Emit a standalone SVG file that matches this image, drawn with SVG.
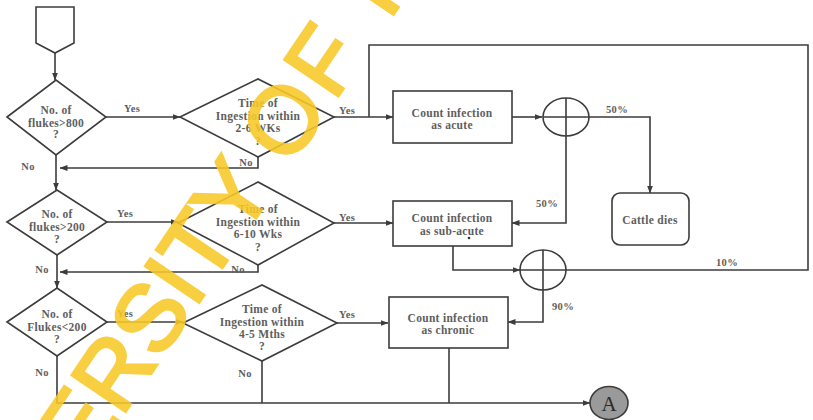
<svg xmlns="http://www.w3.org/2000/svg" width="813" height="420" viewBox="0 0 813 420">
  <defs>
    <style>
      .shape { fill: #ffffff; stroke: #3c3c3c; stroke-width: 1.6; }
      .ln { fill: none; stroke: #3c3c3c; stroke-width: 1.6; }
      .arr { marker-end: url(#ah); }
      .t { font-family: "Liberation Serif", "Times New Roman", serif; font-weight: bold; font-size: 11.5px; fill: #5e5e5e; text-anchor: middle; letter-spacing: 0.3px; }
      .lbl { font-family: "Liberation Serif", "Times New Roman", serif; font-weight: bold; font-size: 10.5px; fill: #5e5e5e; text-anchor: middle; letter-spacing: 0.3px; }
      .wm { font-family: "Liberation Sans", Arial, sans-serif; font-size: 94px; fill: #f9c928; stroke: #f9c928; stroke-width: 3; opacity: 0.88; }
    </style>
    <marker id="ah" markerWidth="8" markerHeight="6" refX="7.5" refY="3" orient="auto" markerUnits="userSpaceOnUse">
      <path d="M0,0 L8,3 L0,6 z" fill="#3c3c3c"/>
    </marker>
  </defs>

  <rect width="813" height="420" fill="#ffffff"/>

  <!-- connectors -->
  <g id="connectors">
    <path class="ln arr" d="M55,53 V80"/>
    <path class="ln arr" d="M106,117 H180"/>
    <path class="ln arr" d="M334,117 H393"/>
    <path class="ln arr" d="M258,157 V168 H60"/>
    <path class="ln arr" d="M56,155 V190"/>
    <path class="ln arr" d="M512,117 H542"/>
    <path class="ln arr" d="M589,117 H650 V193"/>
    <path class="ln arr" d="M566,136 V223 H512"/>
    <path class="ln arr" d="M107,222 H178"/>
    <path class="ln arr" d="M334,223 H393"/>
    <path class="ln arr" d="M258,265 V272 H60"/>
    <path class="ln arr" d="M57,255 V288"/>
    <path class="ln arr" d="M453,245 V270 H520"/>
    <path class="ln" d="M566,270 H808 V45 H369 V117"/>
    <path class="ln arr" d="M543,290 V322 H508"/>
    <path class="ln arr" d="M107,322 H183"/>
    <path class="ln arr" d="M337,323 H388"/>
    <path class="ln arr" d="M57,356 V403 H590"/>
    <path class="ln" d="M262,361 V403"/>
    <path class="ln" d="M449,348 V403"/>

    <text class="lbl" x="132" y="112">Yes</text>
    <text class="lbl" x="347" y="114">Yes</text>
    <text class="lbl" x="28" y="170">No</text>
    <text class="lbl" x="246" y="166">No</text>
    <text class="lbl" x="125" y="217">Yes</text>
    <text class="lbl" x="347" y="221">Yes</text>
    <text class="lbl" x="42" y="273">No</text>
    <text class="lbl" x="238" y="273">No</text>
    <text class="lbl" x="125" y="317">Yes</text>
    <text class="lbl" x="347" y="318">Yes</text>
    <text class="lbl" x="42" y="376">No</text>
    <text class="lbl" x="245" y="377">No</text>
    <text class="lbl" x="617" y="113">50%</text>
    <text class="lbl" x="547" y="207">50%</text>
    <text class="lbl" x="727" y="266">10%</text>
    <text class="lbl" x="563" y="310">90%</text>
  </g>

  <!-- off-page start connector -->
  <g id="start">
    <polygon class="shape" points="36,7 74,7 74,43 55,53 36,43"/>
  </g>

  <g id="flukes800">
    <polygon class="shape" points="7,117 56,80 106,117 56,155"/>
    <text class="t" x="56" y="114">No. of</text>
    <text class="t" x="56" y="127">flukes&gt;800</text>
    <text class="t" x="56" y="138">?</text>
  </g>

  <g id="ingestion2to6">
    <polygon class="shape" points="180,117 258,79 334,117 258,157"/>
    <text class="t" x="258" y="107">Time of</text>
    <text class="t" x="258" y="120">Ingestion within</text>
    <text class="t" x="258" y="132">2-6 WKs</text>
    <text class="t" x="258" y="145">?</text>
  </g>

  <g id="flukes200">
    <polygon class="shape" points="7,222 57,190 107,222 57,255"/>
    <text class="t" x="57" y="218">No. of</text>
    <text class="t" x="57" y="231">flukes&gt;200</text>
    <text class="t" x="57" y="243">?</text>
  </g>

  <g id="ingestion6to10">
    <polygon class="shape" points="178,223 258,182 334,223 258,265"/>
    <text class="t" x="258" y="213">Time of</text>
    <text class="t" x="258" y="226">Ingestion within</text>
    <text class="t" x="258" y="238">6-10 Wks</text>
    <text class="t" x="258" y="251">?</text>
  </g>

  <g id="flukesBelow200">
    <polygon class="shape" points="7,322 57,288 107,322 57,356"/>
    <text class="t" x="57" y="318">No. of</text>
    <text class="t" x="57" y="331">Flukes&lt;200</text>
    <text class="t" x="57" y="343">?</text>
  </g>

  <g id="ingestion4to5">
    <polygon class="shape" points="183,323 262,285 337,323 262,361"/>
    <text class="t" x="262" y="313">Time of</text>
    <text class="t" x="262" y="326">Ingestion within</text>
    <text class="t" x="262" y="338">4-5 Mths</text>
    <text class="t" x="262" y="350">?</text>
  </g>

  <g id="acute">
    <rect class="shape" x="393" y="91" width="119" height="52"/>
    <text class="t" x="452" y="117">Count infection</text>
    <text class="t" x="452" y="129">as acute</text>
  </g>

  <g id="subacute">
    <rect class="shape" x="393" y="201" width="119" height="45"/>
    <text class="t" x="452" y="222">Count infection</text>
    <text class="t" x="452" y="235">as sub-acute</text>
    <circle cx="469" cy="238" r="1.3" fill="#333333"/>
  </g>

  <g id="chronic">
    <rect class="shape" x="389" y="297" width="119" height="51"/>
    <text class="t" x="448" y="322">Count infection</text>
    <text class="t" x="448" y="334">as chronic</text>
  </g>

  <g id="cattleDies">
    <rect class="shape" x="612" y="193" width="77" height="52" rx="8"/>
    <text class="t" x="650" y="224">Cattle dies</text>
  </g>

  <g id="junction1">
    <ellipse class="shape" cx="566" cy="117" rx="23" ry="19"/>
    <path class="ln" d="M543,117 H589 M566,98 V136"/>
  </g>

  <g id="junction2">
    <ellipse class="shape" cx="543" cy="270" rx="23" ry="20"/>
    <path class="ln" d="M520,270 H566 M543,250 V290"/>
  </g>

  <g id="connectorA">
    <ellipse cx="609" cy="403" rx="19" ry="16.5" fill="#9a9a9a" stroke="#3c3c3c" stroke-width="1.6"/>
    <text x="609" y="411" font-family="Liberation Serif, Times New Roman, serif" font-size="21" fill="#2a2a2a" text-anchor="middle">A</text>
  </g>

  <!-- diagonal stamp text -->
  <g transform="translate(283,117) rotate(-56)">
    <text class="wm" x="-627" y="34">UNIVERSITY O<tspan dx="6">F</tspan> <tspan dx="14">IBADAN</tspan></text>
  </g>
</svg>
